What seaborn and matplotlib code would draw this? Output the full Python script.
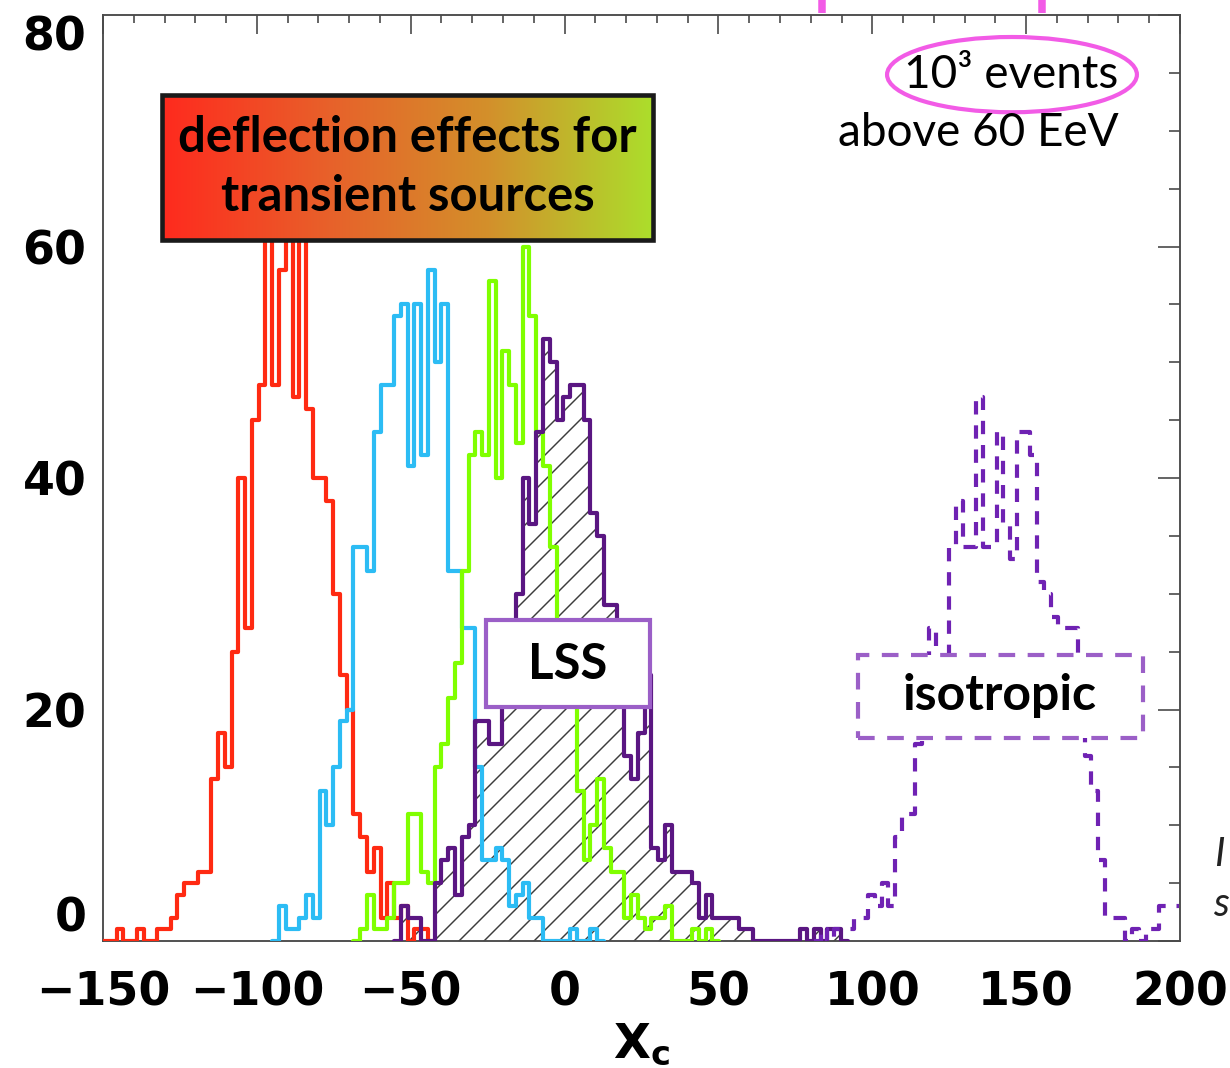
import numpy as np
import pandas as pd
import matplotlib
matplotlib.use("Agg")
import matplotlib.pyplot as plt
import seaborn as sns
from matplotlib.patches import Rectangle, Ellipse
from matplotlib.colors import LinearSegmentedColormap
from matplotlib.ticker import MultipleLocator

# ---------------- data (histogram counts on a common grid) ----------------
BIN_START = -150.0
BIN_WIDTH = 2.2

red_first_bin = 0
red_counts = [0, 0, 1, 0, 0, 1, 0, 0, 1, 1, 2, 4, 5, 5, 6, 6, 14, 18, 15, 25,
              40, 27, 45, 48, 66, 48, 58, 66, 47, 64, 46, 40, 40, 38, 30, 23,
              20, 11, 9, 6, 8, 2, 5, 2, 3, 0, 1, 1, 0]

blue_first_bin = 25
blue_counts = [0, 3, 1, 1, 2, 4, 2, 13, 10, 15, 19, 20, 34, 34, 32, 44, 48, 48,
               54, 55, 41, 55, 42, 58, 50, 55, 32, 32, 27, 27, 15, 7, 7, 8, 7,
               3, 4, 5, 2, 2, 0, 0, 0, 0, 1, 0, 0, 1, 0]

green_first_bin = 37
green_counts = [0, 1, 4, 1, 1, 2, 5, 5, 11, 11, 6, 5, 15, 17, 21, 24, 32, 42,
                44, 42, 57, 40, 51, 48, 43, 60, 54, 44, 41, 34, 24, 24, 22, 13,
                7, 10, 14, 8, 6, 6, 2, 4, 2, 1, 2, 2, 3, 0, 0, 0, 1, 0, 1, 0]

lss_first_bin = 43
lss_counts = [0, 3, 2, 2, 0, 0, 5, 7, 8, 4, 9, 10, 19, 19, 17, 17, 24, 24, 30,
              40, 36, 44, 52, 50, 45, 47, 48, 48, 45, 37, 35, 29, 29, 24, 16,
              14, 18, 23, 8, 7, 10, 6, 6, 6, 5, 2, 4, 2, 2, 2, 2, 1, 1, 0, 0,
              0, 0, 0, 0, 0, 1, 0, 1, 0, 1, 1, 0]

iso_first_bin = 105
iso_counts = [0, 1, 0, 1, 1, 1, 2, 2, 4, 3, 5, 3, 9, 11, 11, 17, 20, 27, 24,
              24, 34, 38, 34, 34, 47, 34, 34, 44, 36, 33, 44, 44, 42, 31, 30,
              28, 27, 27, 27, 20, 16, 13, 7, 2, 2, 2, 0, 1, 0, 1, 1, 3, 3, 3]

xtick_values = [-150, -100, -50, 0, 50, 100, 150, 200]
xtick_labels = ["\u2212150", "\u2212100", "\u221250", "0", "50", "100", "150", "200"]
ytick_values = [0, 20, 40, 60, 80]
ytick_labels = ["0", "20", "40", "60", "80"]

# ---------------- style ----------------
sns.set_style("white")
plt.rcParams["font.family"] = ["DejaVu Sans"]
plt.rcParams["mathtext.fontset"] = "dejavusans"
plt.rcParams["hatch.linewidth"] = 0.7
plt.rcParams["text.color"] = "black"
plt.rcParams["axes.labelcolor"] = "black"

RED = "#ff2a12"
BLUE = "#2cbcf4"
GREEN = "#80ff00"
LSS = "#5a1682"
ISO = "#6f22b3"
BOXPURPLE = "#9b5fc7"
PINK = "#f25be6"
HATCH = "#3c3c3c"
LW = 2.0

fig = plt.figure(figsize=(8.2, 7.12), dpi=150)
ax = fig.add_axes([0.08374, 0.11891, 0.87561, 0.86704])


def series_frame(first, counts):
    edges = BIN_START + BIN_WIDTH * (first + np.arange(len(counts) + 1))
    centers = (edges[:-1] + edges[1:]) / 2.0
    return pd.DataFrame({"x": centers, "count": counts}), [float(e) for e in edges]


# hatched LSS area
lss_df, lss_edges = series_frame(lss_first_bin, lss_counts)
sns.histplot(data=lss_df, x="x", weights="count", bins=lss_edges, element="step",
             fill=True, color=HATCH, facecolor="none", edgecolor=HATCH,
             linewidth=0, hatch="//", ax=ax, zorder=1)

for first, counts, col, ls, z in [
    (red_first_bin, red_counts, RED, "-", 3),
    (blue_first_bin, blue_counts, BLUE, "-", 3),
    (green_first_bin, green_counts, GREEN, "-", 3),
    (lss_first_bin, lss_counts, LSS, "-", 4),
    (iso_first_bin, iso_counts, ISO, (0, (3.2, 2.6)), 4),
]:
    df, edges = series_frame(first, counts)
    sns.histplot(data=df, x="x", weights="count", bins=edges, element="step",
                 fill=False, color=col, linewidth=LW, linestyle=ls, ax=ax, zorder=z)

# ---------------- annotation boxes ----------------
grad = np.linspace(0, 1, 256).reshape(1, -1)
cmap = LinearSegmentedColormap.from_list(
    "defl", ["#ff2a1e", "#e8602a", "#d3902b", "#acde2c"])
ax.imshow(grad, extent=[-130.8, 28.7, 60.6, 73.1], aspect="auto", cmap=cmap,
          zorder=6, interpolation="bicubic")
ax.add_patch(Rectangle((-130.8, 60.6), 159.5, 12.5, fill=False,
                       edgecolor="#1a1a1a", linewidth=2.2, zorder=7))
ax.text(-51.0, 69.4, "deflection effects for", ha="center", va="center",
        fontsize=23.5, fontweight="bold", family="Lato", color="black", zorder=8)
ax.text(-51.0, 64.3, "transient sources", ha="center", va="center",
        fontsize=23.5, fontweight="bold", family="Lato", color="black", zorder=8)

ax.add_patch(Ellipse((145.4, 74.85), 81.2, 6.5, fill=False, edgecolor=PINK,
                     linewidth=2.0, zorder=8))
ax.text(179.9, 74.85, "10\u00b3 events", ha="right", va="center",
        fontsize=22, family="Lato", color="black", zorder=9)
ax.text(179.9, 69.8, "above 60 EeV", ha="right", va="center",
        fontsize=22, family="Lato", color="black", zorder=9)
for xv in (83.5, 155.0):
    ax.plot([xv, xv], [80.15, 84], color=PINK, linewidth=3.6,
            solid_capstyle="butt", clip_on=False, zorder=9)

ax.add_patch(Rectangle((-25.5, 20.2), 53.3, 7.5, facecolor="white",
                       edgecolor=BOXPURPLE, linewidth=2.0, zorder=6))
ax.text(1.1, 23.9, "LSS", ha="center", va="center", fontsize=23.5,
        fontweight="bold", family="Lato", color="black", zorder=8)

ax.add_patch(Rectangle((95.4, 17.5), 92.6, 7.2, facecolor="white",
                       edgecolor=BOXPURPLE, linewidth=2.0,
                       linestyle=(0, (4, 3)), zorder=6))
ax.text(141.5, 21.2, "isotropic", ha="center", va="center", fontsize=24,
        fontweight="bold", family="Lato", color="black", zorder=8)

# ---------------- axes ----------------
ax.set_xlim(-150, 200)
ax.set_ylim(0, 80)
ax.set_xticks(xtick_values)
ax.set_xticklabels(xtick_labels, fontsize=22, fontweight="bold", color="black")
ax.set_yticks(ytick_values)
ylabs = ax.set_yticklabels(ytick_labels, fontsize=22, fontweight="bold", color="black")
ylabs[0].set_va("bottom")
ylabs[-1].set_va("top")
ax.xaxis.set_minor_locator(MultipleLocator(10))
ax.yaxis.set_minor_locator(MultipleLocator(5))
ax.tick_params(which="both", direction="in", top=True, right=True,
               color="#4a4a4a", labelcolor="black")
ax.tick_params(axis="x", which="major", length=9, width=0.8, pad=14)
ax.tick_params(axis="x", which="minor", length=4, width=0.8)
ax.tick_params(axis="y", which="major", length=10.5, width=0.8, pad=8)
ax.tick_params(axis="y", which="minor", length=5.5, width=0.8)
for sp in ax.spines.values():
    sp.set_color("#4a4a4a")
    sp.set_linewidth(0.9)

ax.set_xlabel(r"$\mathbf{X}_{\mathbf{c}}$", fontsize=23, color="black")
ax.xaxis.set_label_coords(0.5, -0.0870)
ax.set_ylabel("")

fig.text(1214 / 1230, 1 - 855 / 1068, "I", ha="left", va="center",
         fontsize=19, style="italic", family="Lato", color="#222222")
fig.text(1213 / 1230, 1 - 905 / 1068, "s", ha="left", va="center",
         fontsize=19, style="italic", family="Lato", color="#222222")

fig.savefig("out.png", dpi=150)
